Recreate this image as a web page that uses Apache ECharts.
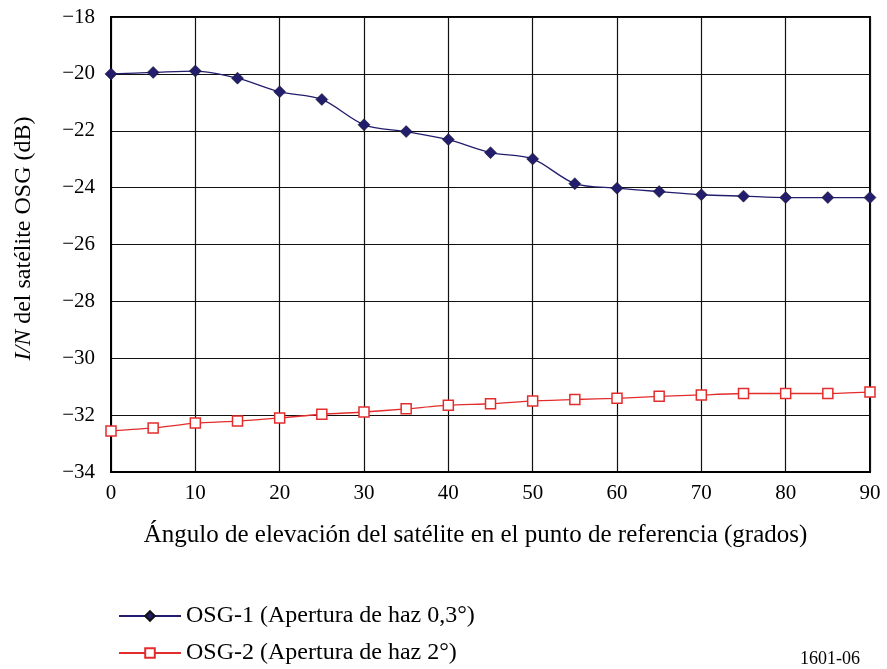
<!DOCTYPE html>
<html><head><meta charset="utf-8">
<script src="https://cdn.jsdelivr.net/npm/echarts@6/dist/echarts.min.js"></script>
<style>html,body{margin:0;padding:0;background:#fff}#c{width:887px;height:669px}</style>
</head><body><div id="c"></div>
<script>
const angles = [0,5,10,15,20,25,30,35,40,45,50,55,60,65,70,75,80,85,90];
const osg1 = [-20.0,-19.95,-19.9,-20.15,-20.63,-20.9,-21.79,-22.03,-22.31,-22.77,-22.99,-23.86,-24.02,-24.14,-24.25,-24.3,-24.35,-24.35,-24.35];
const osg2 = [-32.56,-32.45,-32.28,-32.21,-32.1,-31.97,-31.89,-31.78,-31.65,-31.6,-31.5,-31.45,-31.41,-31.34,-31.29,-31.24,-31.24,-31.24,-31.19];
const name1 = 'OSG-1 (Apertura de haz 0,3°)';
const name2 = 'OSG-2 (Apertura de haz 2°)';
const font = 'Liberation Serif';
const chart = echarts.init(document.getElementById('c'));
const minus = v => String(v).replace('-', '\u2212');
const legendBase = {orient:'vertical',left:113,itemWidth:62,itemHeight:12,
    textStyle:{fontFamily:font,fontSize:24,color:'#000'}};
chart.setOption({
  animation:false,
  textStyle:{fontFamily:font,color:'#000'},
  grid:{left:111,right:17,top:17,bottom:197,show:true,borderColor:'#000',borderWidth:2,backgroundColor:'transparent'},
  xAxis:{type:'value',min:0,max:90,interval:10,
    name:'Ángulo de elevación del satélite en el punto de referencia (grados)',
    nameLocation:'middle',nameGap:51,
    nameTextStyle:{fontFamily:font,fontSize:25,color:'#000',padding:[0,30,0,0]},
    axisLine:{show:true,lineStyle:{color:'#000',width:2}},axisTick:{show:false},
    axisLabel:{fontFamily:font,fontSize:21,color:'#000',margin:11,formatter:minus},
    splitLine:{show:true,lineStyle:{color:'#111',width:1.2}}},
  yAxis:{type:'value',min:-34,max:-18,interval:2,
    name:'{i|I/N} del satélite OSG (dB)',
    nameLocation:'middle',nameGap:75,
    nameTextStyle:{fontFamily:font,fontSize:24,color:'#000',padding:[0,0,0,12],
      rich:{i:{fontFamily:font,fontSize:24,fontStyle:'italic',color:'#000'}}},
    axisLine:{show:true,lineStyle:{color:'#000',width:2}},axisTick:{show:false},
    axisLabel:{fontFamily:font,fontSize:21,color:'#000',margin:16,formatter:minus},
    splitLine:{show:true,lineStyle:{color:'#111',width:1.2}}},
  legend:[
    Object.assign({top:599,data:[name1]},legendBase),
    Object.assign({top:636,data:[name2]},legendBase)
  ],
  graphic:[{type:'text',left:800,top:650,style:{text:'1601-06',font:'18px "Liberation Serif"',fill:'#000'}}],
  series:[
    {name:name1,type:'line',smooth:0.3,data:angles.map((a,i)=>[a,osg1[i]]),
     symbol:'diamond',symbolSize:12,
     lineStyle:{color:'#231d6e',width:1.3},itemStyle:{color:'#231d6e',borderColor:'#111',borderWidth:0.5}},
    {name:name2,type:'line',smooth:0.2,data:angles.map((a,i)=>[a,osg2[i]]),
     symbol:'rect',symbolSize:10,
     lineStyle:{color:'#e32c2c',width:1.3},itemStyle:{color:'#fff',borderColor:'#e32c2c',borderWidth:1.5}}
  ]
});
</script></body></html>
